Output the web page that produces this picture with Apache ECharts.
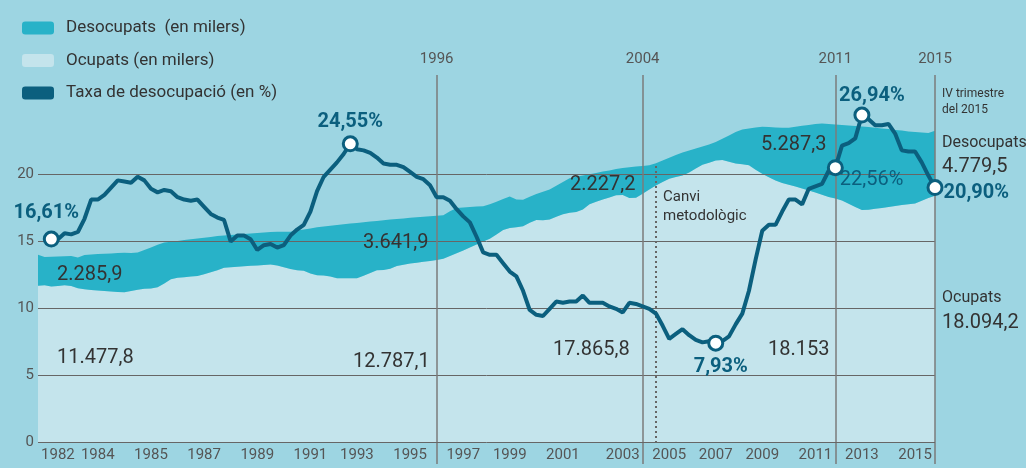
<!DOCTYPE html>
<html>
<head>
<meta charset="utf-8">
<script src="https://cdn.jsdelivr.net/npm/echarts@6.0.0/dist/echarts.min.js"></script>
<style>
    html, body { margin: 0; padding: 0; background: #9dd5e2; }
    #chart { width: 1026px; height: 468px; }
</style>
</head>
<body>
<div id="chart"></div>
<script>
// trimestres 1982 I - 2015 IV
var firstYear = 1982;
var lastYear = 2015;
var quarterNames = ['I', 'II', 'III', 'IV'];

// taxa de desocupació (%)
var rate = [
    null, null, 16.61, 16.6, 17.1, 17.0, 17.2, 18.3, 19.9, 19.9,
    20.3, 20.9, 21.5, 21.4, 21.3, 21.8, 21.5, 20.8, 20.5, 20.7,
    20.6, 20.1, 19.9, 19.8, 19.9, 19.3, 18.7, 18.4, 18.2, 16.4,
    16.9, 16.9, 16.6, 15.7, 16.1, 16.2, 15.9, 16.1, 16.9, 17.4,
    17.8, 18.9, 20.6, 21.8, 22.4, 23.0, 23.7, 24.55, 24.1, 24.0,
    23.8, 23.4, 22.9, 22.8, 22.8, 22.6, 22.2, 21.8, 21.6, 21.1,
    20.1, 20.1, 19.8, 19.1, 18.5, 18.0, 16.8, 15.5, 15.3, 15.3,
    14.6, 13.9, 13.5, 12.3, 10.7, 10.3, 10.2, 10.8, 11.4, 11.3,
    11.4, 11.4, 11.9, 11.3, 11.3, 11.3, 11.0, 10.8, 10.5, 11.3,
    11.2, 11.0, 10.8, 10.4, 9.4, 8.3, 8.7, 9.1, 8.6, 8.2,
    8.0, 8.1, 7.93, 8.1, 8.5, 9.5, 10.4, 12.3, 14.9, 17.3,
    17.8, 17.8, 18.9, 19.9, 19.9, 19.5, 20.8, 21.0, 21.2, 22.3,
    22.56, 24.4, 24.6, 25.0, 26.94, 26.6, 26.1, 26.1, 26.2, 25.4,
    24.0, 23.9, 23.9, 23.0, 21.9, 20.90
];

// ocupats (milers)
var ocupats = [
    11477.8, 11517, 11429, 11473, 11517, 11459, 11297, 11231, 11179, 11135,
    11091, 11062, 11032, 11003, 11099, 11194, 11268, 11282, 11370, 11657,
    11958, 12069, 12113, 12164, 12208, 12333, 12480, 12627, 12811, 12848,
    12877, 12914, 12951, 12980, 13017, 13054, 12965, 12840, 12708, 12627,
    12591, 12385, 12260, 12238, 12164, 12039, 12032, 12032, 12032, 12223,
    12429, 12627, 12642, 12738, 12929, 13024, 13112, 13179, 13245, 13311,
    13377, 13465, 13671, 13869, 14075, 14296, 14509, 14729, 14943, 15251,
    15589, 15736, 15788, 15861, 16111, 16317, 16295, 16354, 16552, 16743,
    16846, 16898, 17089, 17478, 17655, 17816, 17978, 18140, 18147, 17941,
    17949, 18250, 18559, 18845, 19103, 19353, 19478, 19580, 19808, 20102,
    20374, 20529, 20683, 20734, 20602, 20470, 20418, 20337, 20007, 19713,
    19463, 19220, 19044, 18912, 18772, 18640, 18493, 18331, 18177, 18015,
    17897, 17758, 17515, 17273, 17052, 17074, 17140, 17206, 17280, 17346,
    17412, 17471, 17537, 17728, 17941, 18094.2
];

// desocupats (milers)
var desocupats = [
    2285.9, 2080, 2190, 2161, 2139, 2212, 2271, 2521, 2602, 2675,
    2742, 2800, 2859, 2903, 2786, 2727, 2844, 3021, 3131, 3006,
    2764, 2712, 2727, 2734, 2749, 2683, 2595, 2506, 2367, 2367,
    2374, 2374, 2374, 2381, 2381, 2389, 2492, 2617, 2749, 2911,
    3028, 3315, 3521, 3609, 3734, 3910, 3969, 4020, 4072, 3932,
    3771, 3624, 3660, 3616, 3469, 3410, 3366, 3337, 3308, 3285,
    3256, 3205, 3285, 3322, 3153, 2969, 2793, 2602, 2528, 2411,
    2264, 2308, 2029, 1940, 1911, 1911, 2095, 2205, 2286, 2367,
    2543, 2595, 2499, 2205, 2124, 2058, 1985, 1918, 1992, 2249,
    2293, 2043, 1779, 1639, 1588, 1536, 1617, 1698, 1617, 1463,
    1338, 1338, 1360, 1551, 1926, 2308, 2543, 2705, 3116, 3455,
    3682, 3903, 4057, 4190, 4395, 4601, 4814, 5049, 5233, 5358,
    5439, 5542, 5748, 5954, 6137, 6071, 5961, 5843, 5718, 5593,
    5476, 5358, 5248, 5027, 4778, 4779.5
];

// etiquetes de l'eix
var bottomTickIdx = [3, 9, 17, 25, 33, 41, 48, 56, 64, 71, 79, 88, 95, 102, 109, 117, 124, 132];
var bottomTickText = ['1982', '1984', '1985', '1987', '1989', '1991', '1993', '1995', '1997',
    '1999', '2001', '2003', '2005', '2007', '2009', '2011', '2013', '2015'];
var topTickIdx = [60, 91, 120, 135];
var topTickText = ['1996', '2004', '2011', '2015'];
var gridValues = [0, 5, 10, 15, 20];

// punts destacats de la taxa
var rateMarkIdx = [2, 47, 102, 120, 124, 135];
var rateMarkText = ['16,61%', '24,55%', '7,93%', '22,56%', '26,94%', '20,90%'];

var methodChangeIdx = 93;

var FONT = 'Roboto';
var LINE = '#0b5f7e';
var TEAL = '#28b2c8';
var LIGHT = '#c4e4ec';
var TEXT = '#333';

var quarters = [];
for (var y = firstYear; y <= lastYear; y++) {
    quarterNames.forEach(function(q) { quarters.push(y + ' ' + q); });
}

// posició de les etiquetes dels punts
var markLabelPos = [
    { position: 'top', distance: 8, offset: [-5, 0] },
    { position: 'top', distance: 3, offset: [0, 0] },
    { position: 'bottom', distance: 5, offset: [5, 0] },
    { position: 'right', distance: 0, offset: [-4, 12], fontWeight: 'normal' },
    { position: 'top', distance: 1, offset: [10, 0] },
    { position: 'right', distance: 0, offset: [0, 5] }
];

var rateData = rate.map(function(v, i) {
    var k = rateMarkIdx.indexOf(i);
    if (k < 0) return v;
    var p = markLabelPos[k];
    return {
        value: v,
        symbol: 'circle',
        symbolSize: 14,
        itemStyle: { color: '#fff', borderColor: LINE, borderWidth: 3 },
        label: {
            show: true,
            formatter: rateMarkText[k],
            position: p.position,
            distance: p.distance,
            offset: p.offset,
            color: LINE,
            fontSize: 20,
            fontWeight: p.fontWeight || 'bold',
            fontFamily: FONT
        }
    };
});

// textos anotats
var notes = [
    { text: '2.285,9', x: 57, y: 275, size: 20 },
    { text: '11.477,8', x: 57, y: 358, size: 20 },
    { text: '3.641,9', x: 363, y: 243, size: 20 },
    { text: '12.787,1', x: 353, y: 362, size: 20 },
    { text: '2.227,2', x: 570, y: 185, size: 20 },
    { text: '17.865,8', x: 553, y: 350, size: 20 },
    { text: '5.287,3', x: 761, y: 145, size: 20 },
    { text: '18.153', x: 768, y: 350, size: 20 },
    { text: 'Canvi', x: 663, y: 197, size: 15 },
    { text: 'metodològic', x: 663, y: 216, size: 15 },
    { text: 'IV trimestre', x: 942, y: 94, size: 12 },
    { text: 'del 2015', x: 942, y: 110, size: 12 },
    { text: 'Desocupats', x: 942, y: 143, size: 16 },
    { text: '4.779,5', x: 942, y: 167, size: 20 },
    { text: 'Ocupats', x: 942, y: 298, size: 16 },
    { text: '18.094,2', x: 942, y: 323, size: 20 }
];

var refLines = gridValues.map(function(v) {
    return { yAxis: v, lineStyle: { color: '#666', width: 1, type: 'solid' } };
}).concat(topTickIdx.map(function(i) {
    return { xAxis: quarters[i], lineStyle: { color: '#7b7b7b', width: 1.5, type: 'solid' } };
}));
refLines.push([
    { coord: [quarters[methodChangeIdx], 20.6], lineStyle: { color: '#666', width: 2, type: [2, 3] } },
    { coord: [quarters[methodChangeIdx], 0] }
]);

var option = {
    backgroundColor: '#9dd5e2',
    animation: false,
    textStyle: { fontFamily: FONT },
    legend: {
        orient: 'vertical',
        left: 22,
        top: 18,
        padding: 0,
        icon: 'roundRect',
        itemWidth: 32,
        itemHeight: 13,
        itemGap: 12.5,
        data: ['Desocupats  (en milers)', 'Ocupats (en milers)', 'Taxa de desocupació (en %)'],
        textStyle: { color: TEXT, fontSize: 17, lineHeight: 20, fontFamily: FONT, padding: [0, 0, 0, 7] }
    },
    grid: { left: 38, right: 91, top: 75, bottom: 26 },
    xAxis: [{
        type: 'category',
        data: quarters,
        boundaryGap: false,
        axisLine: { show: false },
        axisTick: {
            show: true,
            length: 22,
            interval: function(i) { return topTickIdx.indexOf(i) >= 0; },
            lineStyle: { color: '#7b7b7b', width: 1.5 }
        },
        axisLabel: {
            interval: function(i) { return bottomTickIdx.indexOf(i) >= 0; },
            formatter: function(v, i) {
                var k = bottomTickIdx.indexOf(i);
                return k < 0 ? '' : bottomTickText[k];
            },
            color: '#555',
            fontSize: 15,
            margin: 6,
            fontFamily: FONT
        },
        splitLine: { show: false }
    }, {
        type: 'category',
        data: quarters,
        position: 'top',
        boundaryGap: false,
        axisLine: { show: false },
        axisTick: { show: false },
        axisLabel: {
            interval: function(i) { return topTickIdx.indexOf(i) >= 0; },
            formatter: function(v, i) {
                var k = topTickIdx.indexOf(i);
                return k < 0 ? '' : topTickText[k];
            },
            color: '#555',
            fontSize: 15,
            margin: 8,
            fontFamily: FONT
        },
        splitLine: { show: false }
    }],
    yAxis: [{
        // escala de les línies de referència
        type: 'value',
        min: 0,
        max: 27.39,
        interval: 5,
        axisLine: { show: false },
        axisTick: { show: false },
        splitLine: { show: false },
        axisLabel: {
            formatter: function(v) { return (v <= 20 && v % 5 === 0) ? v : ''; },
            color: '#555',
            fontSize: 15,
            margin: 4,
            fontFamily: FONT
        }
    }, {
        // taxa
        type: 'value', min: -0.3, max: 30.28, show: false
    }, {
        // milers
        type: 'value', min: 0, max: 26975, show: false
    }],
    series: [{
        name: 'Ocupats (en milers)',
        type: 'line',
        stack: 'total',
        yAxisIndex: 2,
        data: ocupats,
        symbol: 'none',
        lineStyle: { width: 0 },
        itemStyle: { color: LIGHT },
        areaStyle: { color: LIGHT, opacity: 1 },
        z: 2
    }, {
        name: 'Desocupats  (en milers)',
        type: 'line',
        stack: 'total',
        yAxisIndex: 2,
        data: desocupats,
        symbol: 'none',
        lineStyle: { width: 0 },
        itemStyle: { color: TEAL },
        areaStyle: { color: TEAL, opacity: 1 },
        z: 2
    }, {
        name: 'refs',
        type: 'line',
        yAxisIndex: 0,
        data: [],
        z: 3,
        markLine: {
            silent: true,
            symbol: 'none',
            label: { show: false },
            data: refLines
        }
    }, {
        name: 'Taxa de desocupació (en %)',
        type: 'line',
        yAxisIndex: 1,
        data: rateData,
        symbol: 'none',
        showAllSymbol: true,
        clip: false,
        lineStyle: { color: LINE, width: 4 },
        itemStyle: { color: LINE },
        z: 5
    }],
    graphic: notes.map(function(n) {
        return {
            type: 'text',
            x: n.x,
            y: n.y,
            z: 10,
            style: {
                text: n.text,
                fill: TEXT,
                font: n.size + 'px ' + FONT,
                align: 'left',
                verticalAlign: 'middle'
            }
        };
    })
};

var myChart = echarts.init(document.getElementById('chart'));
myChart.setOption(option);
</script>
</body>
</html>
